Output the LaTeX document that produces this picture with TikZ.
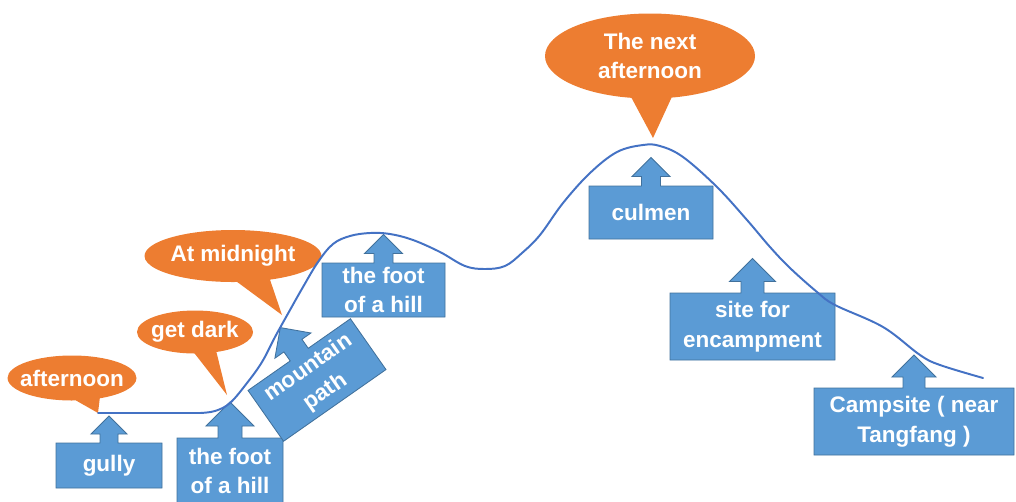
\documentclass[tikz,border=0pt]{standalone}
\usepackage{fontspec}
\setmainfont{Liberation Sans}
\usetikzlibrary{shapes.callouts}
\definecolor{boxblue}{HTML}{5B9BD5}
\definecolor{boxedge}{HTML}{41719C}
\definecolor{bubbleorange}{HTML}{ED7D31}
\definecolor{trail}{HTML}{4472C4}
\tikzset{blue box/.style={fill=boxblue, draw=boxedge, line width=0.6pt}}
\tikzset{box text/.style={text=white, font=\bfseries\fontsize{16}{21}\selectfont, align=center, inner sep=0pt}}
\tikzset{orange bubble/.style={
		ellipse callout, fill=bubbleorange, text=white, inner xsep=-7pt, inner ysep=0pt,
		font=\bfseries\fontsize{16}{21}\selectfont, align=center,
		callout pointer arc=22}}
\tikzset{trail line/.style={trail, line width=1.4pt, line cap=round}}
% name, centre, angle, width, height, arrow half width, text
\newcommand\bluecallout[7]{%
  \begin{scope}[shift={#2}, rotate=#3]
    \filldraw[blue box] (-#4/2,-#5/2) -- (-#6/2,-#5/2) -- (-#6/2,-#5/2-#6/2) -- (-#6,-#5/2-#6/2)
      -- (0,-#5/2-3*#6/2) -- (#6,-#5/2-#6/2) -- (#6/2,-#5/2-#6/2) -- (#6/2,-#5/2)
      -- (#4/2,-#5/2) -- (#4/2,#5/2) -- (-#4/2,#5/2) -- cycle;
    \node[box text, minimum width=#4*0.025cm, minimum height=#5*0.025cm, transform shape] (#1) at (0,0) {#7};
  \end{scope}}

\begin{document}
\begin{tikzpicture}[x=0.025cm, y=-0.025cm]
  \useasboundingbox (0,0) rectangle (1016,501);

  \node[orange bubble, minimum width=129*0.025cm, minimum height=45*0.025cm,
    callout absolute pointer={(98,413)}] (afternoon) at (72,378) {afternoon};
  \node[orange bubble, minimum width=116*0.025cm, minimum height=43*0.025cm,
    callout absolute pointer={(227,395)}] (getdark) at (195,332) {get dark};
  \node[orange bubble, minimum width=177*0.025cm, minimum height=52*0.025cm,
    callout absolute pointer={(282,315)}] (midnight) at (233,256) {At midnight};
  \node[orange bubble, minimum width=210*0.025cm, minimum height=85*0.025cm,
    callout absolute pointer={(653,138)}] (nextafternoon) at (650,56) {The next\\afternoon};

  \bluecallout{gully}{(109,465.5)}{0}{106}{45}{18}{gully}
  \bluecallout{foota}{(230,471)}{0}{106}{66}{24}{the foot\\of a hill}
  \bluecallout{path}{(317,380)}{35}{125}{62}{22}{mountain\\path}
  \bluecallout{footb}{(383.5,290)}{0}{123}{54}{19}{the foot\\of a hill}
  \bluecallout{culmen}{(651,212.5)}{0}{124}{53}{19}{culmen}
  \bluecallout{site}{(752.5,326.5)}{0}{165}{67}{23}{site for\\encampment}
  \bluecallout{campsite}{(914,421.5)}{0}{200}{67}{22}{Campsite ( near\\Tangfang )}

  \draw[trail line] (98,413) -- (200,413) -- plot[smooth, tension=0.6] coordinates {
    (200,413) (215,411) (230,403) (247,383) (262,362) (275,337) (290,310) (303,287)
    (318,262) (333,244) (350,236) (370,233) (390,234) (413,240) (440,252) (465,266)
    (485,269) (505,266) (522,253) (540,235) (563,203) (590,173) (617,152) (643,145)
    (660,146) (683,157) (717,187) (747,220) (770,247) (790,268) (817,292) (835,305)
    (883,327) (920,355) (940,365) (983,378)};
\end{tikzpicture}
\end{document}
